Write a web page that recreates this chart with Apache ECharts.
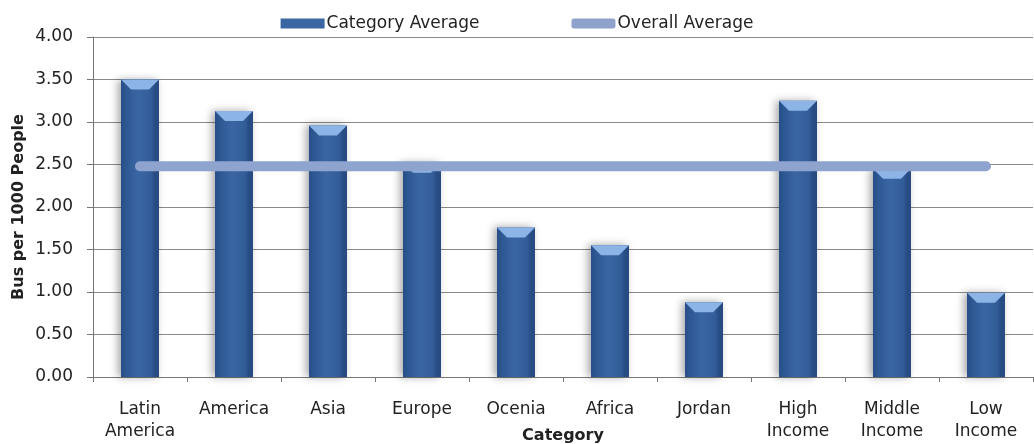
<!DOCTYPE html>
<html><head><meta charset="utf-8">
<script src="https://cdn.jsdelivr.net/npm/echarts@6/dist/echarts.min.js"></script>
<style>html,body{margin:0;padding:0;background:#fff}#c{width:1034px;height:444px}</style>
</head><body><div id="c"></div>
<script>
const categories = ['Latin\nAmerica','America','Asia','Europe','Ocenia','Africa','Jordan','High\nIncome','Middle\nIncome','Low\nIncome'];
const categoryAverage = [3.50, 3.13, 2.96, 2.52, 1.76, 1.55, 0.88, 3.25, 2.45, 0.99];
const overallAverage = [2.48, 2.48, 2.48, 2.48, 2.48, 2.48, 2.48, 2.48, 2.48, 2.48];
const yTicks = [0, 0.5, 1, 1.5, 2, 2.5, 3, 3.5, 4];

const FONT = 'DejaVu Sans';
const barGrad = new echarts.graphic.LinearGradient(0,0,1,0,[
  {offset:0,color:'#274e87'},{offset:0.12,color:'#2c5792'},{offset:0.45,color:'#3a67a4'},
  {offset:0.8,color:'#315c98'},{offset:0.9,color:'#274b82'},{offset:1,color:'#274b82'}]);
const chart = echarts.init(document.getElementById('c'));
chart.setOption({
  animation:false,
  textStyle:{fontFamily:FONT},
  legend:{
    top:10, left:'center', itemGap:92, itemWidth:44, itemHeight:10,
    textStyle:{fontFamily:FONT,fontSize:17,color:'#222',padding:[0,0,0,-3]},
    data:[{name:'Category Average',icon:'rect',itemStyle:{color:'#3a66a4'}},
          {name:'Overall Average',icon:'roundRect',itemStyle:{color:'#8ea2cc'}}]
  },
  grid:{left:93,right:1,top:37,bottom:67,outerBoundsMode:'none',containLabel:false},
  xAxis:{
    type:'category', data:categories, boundaryGap:true,
    name:'Category', nameLocation:'middle', nameGap:51, nameMoveOverlap:false,
    nameTextStyle:{fontFamily:FONT,fontWeight:'bold',fontSize:16,color:'#222'},
    axisLine:{lineStyle:{color:'#777',width:1}},
    axisTick:{show:true,length:5,lineStyle:{color:'#777'}},
    axisLabel:{fontFamily:FONT,fontSize:17,color:'#222',margin:22,lineHeight:22,interval:0}
  },
  yAxis:{
    type:'value', min:0, max:4, interval:0.5,
    name:'Bus per 1000 People', nameLocation:'middle', nameGap:66, nameRotate:90, nameMoveOverlap:false,
    nameTextStyle:{fontFamily:FONT,fontWeight:'bold',fontSize:16,color:'#222'},
    axisLine:{show:true,lineStyle:{color:'#777'}},
    axisTick:{show:true,length:6,lineStyle:{color:'#777'}},
    axisLabel:{fontFamily:FONT,fontSize:17,color:'#222',margin:20,formatter:v=>v.toFixed(2)},
    splitLine:{lineStyle:{color:'#8a8a8a',width:1}}
  },
  series:[
    {name:'Category Average',type:'bar',data:categoryAverage,barWidth:38,
     itemStyle:{color:barGrad,shadowColor:'rgba(0,0,0,0.35)',shadowBlur:8,shadowOffsetX:-3},z:2},
    {name:'bevel',type:'pictorialBar',data:categoryAverage,symbol:'path://M0,0 L38,0 L28,10 L10,10 Z',
     symbolSize:[38,10],symbolPosition:'end',symbolOffset:[0,0],barGap:'-100%',
     itemStyle:{color:'#8db4e6'},z:3,silent:true,legendHoverLink:false},
    {name:'Overall Average',type:'line',data:overallAverage,symbol:'none',
     lineStyle:{width:10,color:'#8ea4cf',cap:'round'},z:5}
  ]
});
</script></body></html>
